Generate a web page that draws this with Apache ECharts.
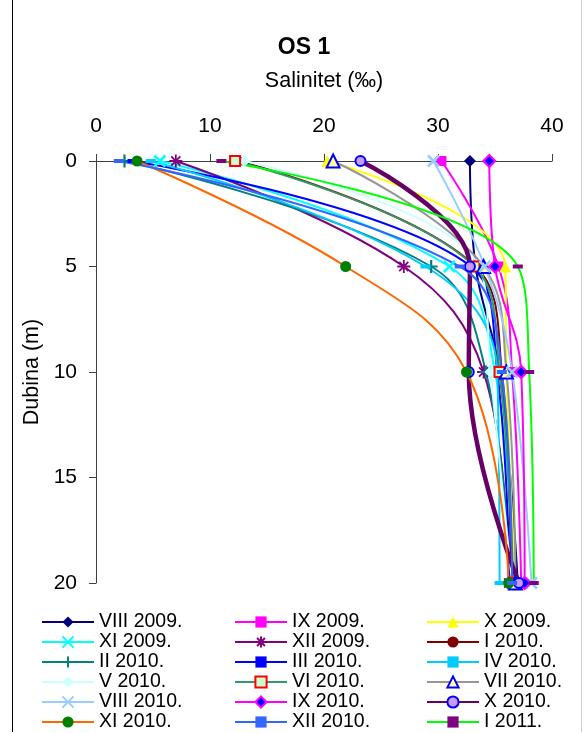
<!DOCTYPE html>
<html>
<head>
<meta charset="utf-8">
<script src="https://cdn.jsdelivr.net/npm/echarts@6/dist/echarts.min.js"></script>
<style>
html,body{margin:0;padding:0;background:#fff;}
#chart{width:584px;height:733px;}
</style>
</head>
<body>
<div id="chart"></div>
<script>
// Depths (m) at which salinity was measured
const depths = [0, 5, 10, 20];
// Salinity (‰) per sampling month, at the depths above
const aug2009 = [32.8, 33.3, 35.4, 37.0];
const sep2009 = [30.3, 35.3, 36.5, 37.3];
const oct2009 = [20.3, 35.9, 36.0, 36.8];
const nov2009 = [5.6, 31.0, 35.0, 36.5];
const dec2009 = [7.0, 27.0, 34.0, 36.2];
const jan2010 = [12.5, 33.3, 35.6, 36.4];
const feb2010 = [2.5, 29.4, 34.2, 36.3];
const mar2010 = [3.2, 32.9, 35.2, 36.3];
const apr2010 = [4.8, 28.9, 35.2, 35.4];
const may2010 = [13.0, 33.6, 34.6, 36.5];
const jun2010 = [12.2, 33.2, 35.4, 36.6];
const jul2010 = [20.8, 34.0, 36.0, 36.8];
const aug2010 = [29.6, 34.1, 36.5, 38.2];
const sep2010 = [34.5, 35.0, 37.3, 37.6];
const oct2010 = [23.2, 32.8, 32.7, 37.1];
const nov2010 = [3.6, 21.9, 32.5, 36.2];
const dec2010 = [2.0, 31.9, 35.6, 36.5];
const jan2011 = [11.0, 37.0, 38.0, 38.4];

const names = ['VIII 2009.', 'IX 2009.', 'X 2009.', 'XI 2009.', 'XII 2009.', 'I 2010.',
  'II 2010.', 'III 2010.', 'IV 2010.', 'V 2010.', 'VI 2010.', 'VII 2010.',
  'VIII 2010.', 'IX 2010.', 'X 2010.', 'XI 2010.', 'XII 2010.', 'I 2011.'];
const values = [aug2009, sep2009, oct2009, nov2009, dec2009, jan2010, feb2010, mar2010, apr2010,
  may2010, jun2010, jul2010, aug2010, sep2010, oct2010, nov2010, dec2010, jan2011];

const X_PATH = 'path://M0,0L10,10M10,0L0,10';
const PLUS_PATH = 'path://M5,0L5,10M0,5L10,5';
const STAR_PATH = 'path://M5,0L5,10M0,5L10,5M1.5,1.5L8.5,8.5M8.5,1.5L1.5,8.5';
const DASH_PATH = 'path://M0,0L10,0L10,4L0,4Z';

// style per series (line colour, width, marker)
const styles = [
  {line:'#000080', w:2, sym:'diamond', size:12, fill:'#000080'},
  {line:'#FF00FF', w:2, sym:'rect', size:10, fill:'#FF00FF'},
  {line:'#FFFF00', w:2, sym:'triangle', size:12, fill:'#FFFF00'},
  {line:'#00FFFF', w:2, sym:X_PATH, size:11, fill:'#00FFFF', border:'#00FFFF', bw:2.5},
  {line:'#800080', w:2, sym:STAR_PATH, size:13, fill:'#800080', border:'#800080', bw:1.8},
  {line:'#800000', w:2, sym:'circle', size:10, fill:'#800000'},
  {line:'#008080', w:2, sym:PLUS_PATH, size:13, fill:'#008080', border:'#008080', bw:2.2},
  {line:'#0000FF', w:2, sym:DASH_PATH, size:10, fill:'#0000FF'},
  {line:'#00CCFF', w:2, sym:DASH_PATH, size:10, fill:'#00CCFF'},
  {line:'#CCFFFF', w:2, sym:'diamond', size:12, fill:'#CCFFFF'},
  {line:'#339966', w:2, sym:'rect', size:10, fill:'#CCFFCC', border:'#FF0000', bw:2},
  {line:'#969696', w:2, sym:'triangle', size:13, fill:'#FFFF99', border:'#0000FF', bw:2},
  {line:'#99CCFF', w:2, sym:X_PATH, size:11, fill:'#99CCFF', border:'#99CCFF', bw:2.5},
  {line:'#FF00FF', w:2, sym:'diamond', size:12, fill:'#0000FF', border:'#FF00FF', bw:2},
  {line:'#660066', w:4.5, sym:'circle', size:10, fill:'#CC99FF', border:'#0000FF', bw:2},
  {line:'#FF6600', w:2, sym:'circle', size:11, fill:'#008000'},
  {line:'#3366FF', w:2, sym:DASH_PATH, size:10, fill:'#3366FF'},
  {line:'#00FF00', w:2, sym:DASH_PATH, size:10, fill:'#800080'}
];

const series = names.map((n, i) => {
  const st = styles[i];
  return {
    name: n,
    type: 'line',
    smooth: 0.4,
    data: depths.map((d, k) => [values[i][k], d]),
    symbol: st.sym,
    symbolSize: st.size,
    symbolKeepAspect: true,
    showAllSymbol: true,
    lineStyle: {color: st.line, width: st.w},
    itemStyle: {color: st.fill, borderColor: st.border || st.fill, borderWidth: st.bw || 0},
    emphasis: {disabled: true},
    z: 2
  };
});

const col = k => names.filter((_, i) => i % 3 === k);
const legendBase = {
  orient: 'vertical', top: 612, height: 121, padding: 0,
  itemWidth: 52, itemHeight: 14, itemGap: 0,
  textStyle: {fontFamily: 'Liberation Sans, Arial, sans-serif', fontSize: 19.5, color: '#000', lineHeight: 19.2},
  selectedMode: false
};

const chart = echarts.init(document.getElementById('chart'), null, {renderer: 'canvas'});
chart.setOption({
  animation: false,
  backgroundColor: '#fff',
  textStyle: {fontFamily: 'Liberation Sans, Arial, sans-serif'},
  title: {
    text: 'OS 1', left: 299, top: 31, textAlign: 'center',
    textStyle: {fontFamily: 'Liberation Sans, Arial, sans-serif', fontSize: 23, fontWeight: 'bold', color: '#000'}
  },
  grid: {left: 96, right: 32, top: 161, bottom: 150, containLabel: false},
  xAxis: {
    type: 'value', position: 'top', min: 0, max: 40, interval: 10,
    name: 'Salinitet (‰)', nameLocation: 'middle', nameGap: 69,
    nameTextStyle: {fontSize: 21.5, color: '#000', fontFamily: 'Liberation Sans, Arial, sans-serif'},
    axisLine: {show: true, lineStyle: {color: '#404040', width: 1}},
    axisTick: {show: true, inside: false, length: 7, lineStyle: {color: '#404040'}},
    axisLabel: {fontSize: 21, color: '#000', margin: 24, fontFamily: 'Liberation Sans, Arial, sans-serif'},
    splitLine: {show: false}
  },
  yAxis: {
    type: 'value', inverse: true, min: 0, max: 20, interval: 5,
    name: 'Dubina (m)', nameLocation: 'middle', nameGap: 52, nameRotate: 90,
    nameTextStyle: {fontSize: 21.5, color: '#000', fontFamily: 'Liberation Sans, Arial, sans-serif'},
    axisLine: {show: true, onZero: false, lineStyle: {color: '#404040', width: 1}},
    axisTick: {show: true, inside: false, length: 7, lineStyle: {color: '#404040'}},
    axisLabel: {fontSize: 21, color: '#000', margin: 19, fontFamily: 'Liberation Sans, Arial, sans-serif'},
    splitLine: {show: false}
  },
  legend: [
    Object.assign({}, legendBase, {left: 41, data: col(0)}),
    Object.assign({}, legendBase, {left: 234, data: col(1)}),
    Object.assign({}, legendBase, {left: 426, data: col(2)})
  ],
  graphic: [
    {type: 'line', shape: {x1: 12.5, y1: 0, x2: 12.5, y2: 732}, style: {stroke: '#000', lineWidth: 1}, silent: true},
    {type: 'line', shape: {x1: 581.5, y1: 0, x2: 581.5, y2: 732}, style: {stroke: '#d0d0d0', lineWidth: 1}, silent: true}
  ],
  series: series
});
</script>
</body>
</html>
